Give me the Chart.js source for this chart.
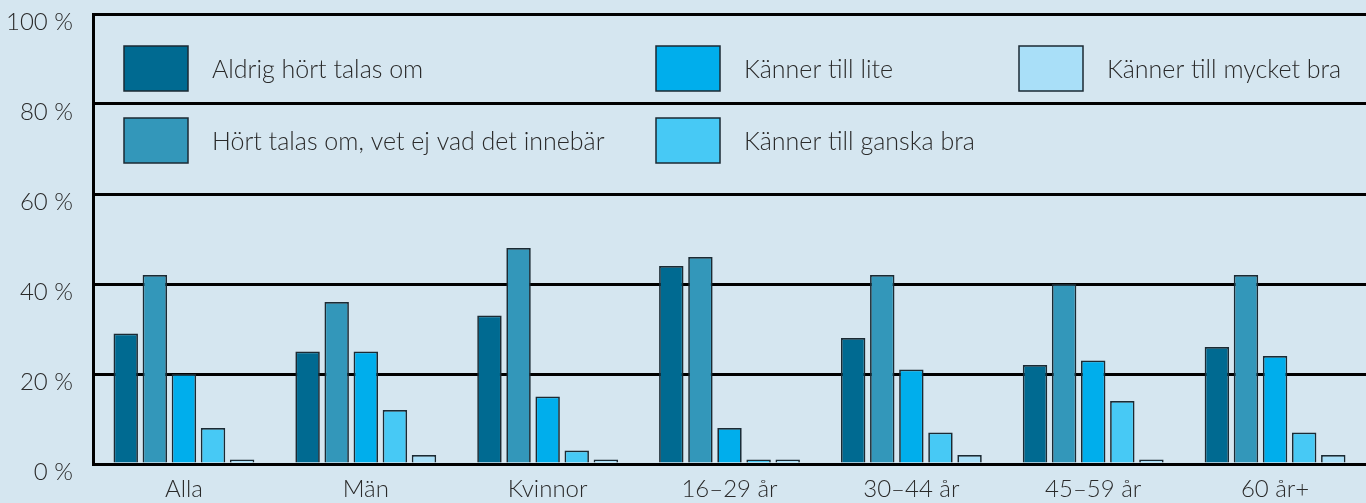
<!DOCTYPE html>
<html lang="sv"><head>
<meta charset="utf-8">
<title>Kännedom</title>
<script src="https://cdn.jsdelivr.net/npm/chart.js@4"></script>
<style>
*{margin:0;padding:0;box-sizing:border-box}
html,body{width:1366px;height:503px;background:#d5e6f0;overflow:hidden}
canvas{display:block}
</style></head><body>
<canvas id="c" width="1366" height="503"></canvas>
<script>
// data (percent)
const groups=['Alla','Män','Kvinnor','16–29 år','30–44 år','45–59 år','60 år+'];
const seriesNames=['Aldrig hört talas om','Hört talas om, vet ej vad det innebär','Känner till lite','Känner till ganska bra','Känner till mycket bra'];
const aldrig=[29,25,33,44,28,22,26];
const hortTalas=[42,36,48,46,42,40,42];
const lite=[20,25,15,8,21,23,24];
const ganska=[8,12,3,1,7,14,7];
const mycket=[1,2,1,1,2,1,2];
const yTicks=[0,20,40,60,80,100];

const fills=['#006a91','#3397ba','#00aeec','#47c9f5','#a9dff8'];
const font='Lato, "Open Sans", sans-serif';
const ink='#2a2a2a';

// legend drawn inside the plot area, 3 columns x 2 rows (column-major)
const legendCols=[124,656,1019];
const legendRows=[46,118];
const insideLegend={id:'insideLegend',afterDatasetsDraw(chart){
  const ctx=chart.ctx;
  chart.data.datasets.forEach((ds,i)=>{
    const x=legendCols[Math.floor(i/2)],y=legendRows[i%2];
    ctx.save();
    ctx.fillStyle=ds.backgroundColor;ctx.fillRect(x,y,64,45);
    ctx.strokeStyle='#1b2a33';ctx.lineWidth=1.5;ctx.strokeRect(x,y,64,45);
    ctx.fillStyle=ink;ctx.font='300 25px '+font;ctx.textBaseline='middle';
    ctx.fillText(ds.label,x+88,y+24);
    ctx.restore();
  });
}};

const data=[aldrig,hortTalas,lite,ganska,mycket];
new Chart(document.getElementById('c'),{type:'bar',
  data:{labels:groups,datasets:seriesNames.map((n,i)=>({label:n,data:data[i],backgroundColor:fills[i],
    borderColor:'#1b2a33',borderWidth:1.7,borderSkipped:'bottom',categoryPercentage:0.8,barPercentage:0.84}))},
  options:{responsive:false,animation:false,devicePixelRatio:1,
    layout:{padding:{top:14,right:0,left:0,bottom:0}},
    plugins:{legend:{display:false},tooltip:{enabled:false}},
    scales:{
      x:{grid:{display:false,drawTicks:false},border:{color:'#000',width:3},
        ticks:{color:ink,font:{family:font,size:24,weight:300},padding:11,maxRotation:0,autoSkip:false},
        afterFit(s){s.height=39;s.paddingLeft=0;s.paddingRight=0}},
      y:{min:0,max:100,afterBuildTicks(s){s.ticks=yTicks.map(v=>({value:v}))},
        grid:{color:'#000',lineWidth:3,drawTicks:false},border:{color:'#000',width:3},
        ticks:{color:ink,font:{family:font,size:24,weight:300},padding:20,labelOffset:8,autoSkip:false,callback:v=>v+' %'},
        afterFit(s){s.width=93;s.paddingTop=0;s.paddingBottom=0}}
    }},
  plugins:[insideLegend]});
</script></body></html>
